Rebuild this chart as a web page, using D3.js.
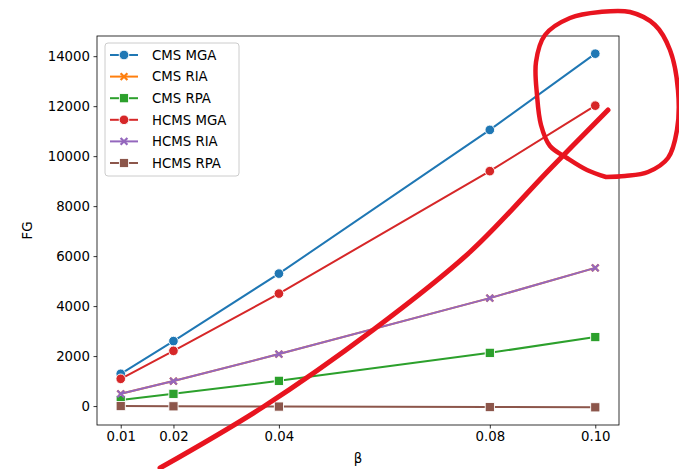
<!DOCTYPE html>
<html lang="en">
<head>
<meta charset="UTF-8">
<title>FG vs beta</title>
<script src="https://d3js.org/d3.v7.min.js"></script>
<style>
    body { margin: 0; background: #fff; }
    text { font-family: "DejaVu Sans", sans-serif; }
</style>
</head>
<body>
<svg width="679" height="469"></svg>
<script>
    // data
    const betas = [0.01, 0.02, 0.04, 0.08, 0.10];
    const seriesNames = ["CMS MGA", "CMS RIA", "CMS RPA", "HCMS MGA", "HCMS RIA", "HCMS RPA"];
    const cmsMGA  = [1290, 2600, 5300, 11050, 14100];
    const cmsRIA  = [490, 1000, 2080, 4320, 5530];
    const cmsRPA  = [245, 490, 1010, 2130, 2760];
    const hcmsMGA = [1090, 2210, 4500, 9400, 12020];
    const hcmsRIA = [490, 1000, 2080, 4320, 5530];
    const hcmsRPA = [0, -10, -20, -40, -50];
    const yTicks = [0, 2000, 4000, 6000, 8000, 10000, 12000, 14000];
    const colors = ["#1f77b4", "#ff7f0e", "#2ca02c", "#d62728", "#9467bd", "#8c564b"];
    const markers = ["circle", "x", "square", "circle", "x", "square"];

    const allSeries = [cmsMGA, cmsRIA, cmsRPA, hcmsMGA, hcmsRIA, hcmsRPA];

    const svg = d3.select("svg");
    const mLeft = 97, mRight = 619, mTop = 36, mBottom = 425;

    // matplotlib style 5% margins
    const xs = d3.extent(betas), xpad = (xs[1] - xs[0]) * 0.05;
    const allY = allSeries.flat();
    const ys = d3.extent(allY), ypad = (ys[1] - ys[0]) * 0.05;

    const x = d3.scaleLinear().domain([xs[0] - xpad, xs[1] + xpad]).range([mLeft, mRight]);
    const y = d3.scaleLinear().domain([ys[0] - ypad, ys[1] + ypad]).range([mBottom, mTop]);

    // axes
    const xAxis = d3.axisBottom(x).tickValues(betas).tickFormat(d3.format(".2f")).tickSizeOuter(0).tickSize(3.5).tickPadding(3.5);
    const yAxis = d3.axisLeft(y).tickValues(yTicks).tickFormat(d3.format("d")).tickSizeOuter(0).tickSize(3.5).tickPadding(3.5);

    const gx = svg.append("g").attr("transform", `translate(0,${mBottom})`).call(xAxis);
    const gy = svg.append("g").attr("transform", `translate(${mLeft},0)`).call(yAxis);
    [gx, gy].forEach(g => {
        g.select(".domain").remove();
        g.selectAll(".tick line").attr("stroke", "#000").attr("stroke-width", 0.8);
        g.selectAll(".tick text").attr("fill", "#000").style("font-size", "13.3px").style("font-family", "DejaVu Sans");
    });

    svg.append("text").attr("x", (mLeft + mRight) / 2).attr("y", 463)
        .attr("text-anchor", "middle").style("font-size", "13.3px").text("β");
    svg.append("text").attr("transform", `translate(32,${(mTop + mBottom) / 2}) rotate(-90)`)
        .attr("text-anchor", "middle").style("font-size", "13.3px").text("FG");

    // lines
    const line = d3.line().x((d, i) => x(betas[i])).y(d => y(d));

    function drawMarker(g, type, cx, cy, color) {
        if (type === "circle") {
            g.append("circle").attr("cx", cx).attr("cy", cy).attr("r", 4.8)
                .attr("fill", color).attr("stroke", "#fff").attr("stroke-width", 0.9);
        } else if (type === "square") {
            g.append("rect").attr("x", cx - 4.6).attr("y", cy - 4.6).attr("width", 9.2).attr("height", 9.2)
                .attr("fill", color).attr("stroke", "#fff").attr("stroke-width", 0.9);
        } else {
            const s = 3.4;
            g.append("path").attr("d", `M${cx - s},${cy - s}L${cx + s},${cy + s}M${cx - s},${cy + s}L${cx + s},${cy - s}`)
                .attr("stroke", color).attr("stroke-width", 2.2).attr("fill", "none");
        }
    }

    allSeries.forEach((vals, k) => {
        const g = svg.append("g");
        g.append("path").attr("d", line(vals)).attr("fill", "none")
            .attr("stroke", colors[k]).attr("stroke-width", 2);
        vals.forEach((v, i) => drawMarker(g, markers[k], x(betas[i]), y(v), colors[k]));
    });

    // frame
    svg.append("rect").attr("x", mLeft).attr("y", mTop).attr("width", mRight - mLeft).attr("height", mBottom - mTop)
        .attr("fill", "none").attr("stroke", "#000").attr("stroke-width", 0.8);

    // legend
    const lg = svg.append("g").attr("transform", "translate(105,43)");
    lg.append("rect").attr("width", 134).attr("height", 133).attr("rx", 3)
        .attr("fill", "#fff").attr("fill-opacity", 0.8).attr("stroke", "#ccc").attr("stroke-width", 1);
    seriesNames.forEach((name, k) => {
        const yy = 12 + k * 21.6;
        lg.append("line").attr("x1", 5).attr("x2", 33).attr("y1", yy).attr("y2", yy)
            .attr("stroke", colors[k]).attr("stroke-width", 2);
        drawMarker(lg, markers[k], 19, yy, colors[k]);
        lg.append("text").attr("x", 47).attr("y", yy + 4.8).style("font-size", "13.3px").text(name);
    });

    // hand drawn red annotation (pixel coordinates, not data)
    const scribbleCircle = [[606,177],[587,170],[567,158],[550,146],[541,125],[537,95],[536,62],[545,35],[570,18],[600,12],[630,12],[655,25],[670,50],[678,90],[677,130],[668,158],[648,172],[625,176],[606,177]];
    const scribbleStroke = [[160,468],[263,407],[373,330],[470,252],[550,169],[608,110]];
    const pen = d3.line().curve(d3.curveCatmullRom);
    svg.append("path").attr("d", pen(scribbleCircle)).attr("fill", "none")
        .attr("stroke", "#e8141f").attr("stroke-width", 4.5).attr("stroke-linecap", "round").attr("stroke-linejoin", "round");
    svg.append("path").attr("d", pen(scribbleStroke)).attr("fill", "none")
        .attr("stroke", "#e8141f").attr("stroke-width", 5).attr("stroke-linecap", "round");
</script>
</body>
</html>
